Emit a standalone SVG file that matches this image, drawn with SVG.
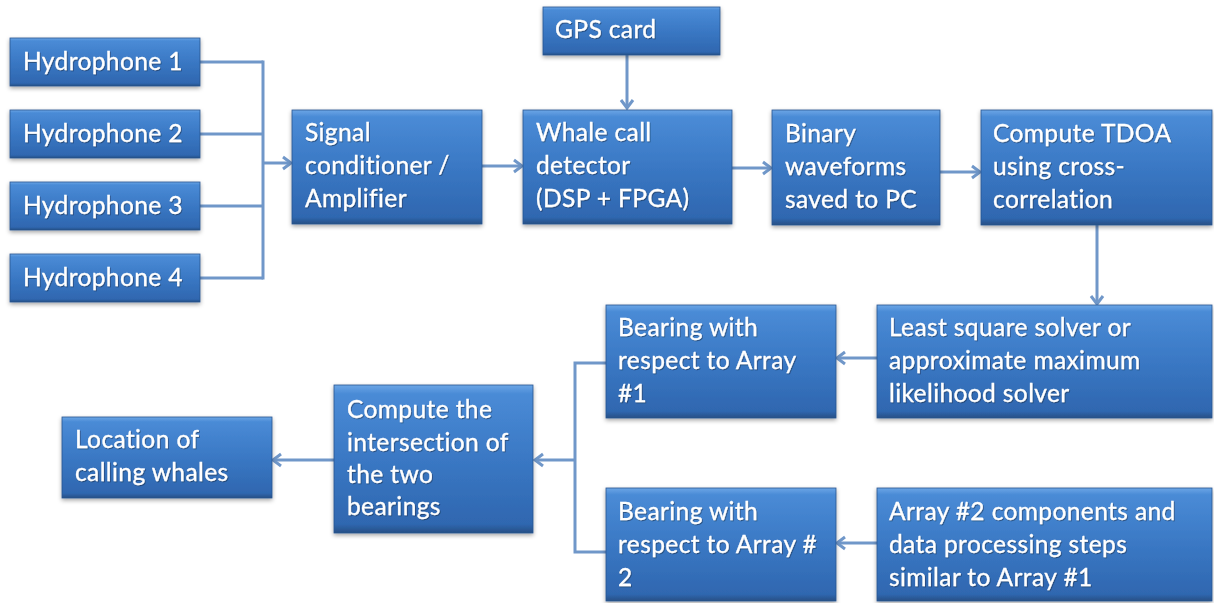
<svg xmlns="http://www.w3.org/2000/svg" width="1214" height="603" viewBox="0 0 1214 603">
  <defs>
    <linearGradient id="boxFill" x1="0" y1="0" x2="0" y2="1">
      <stop offset="0" stop-color="#6ca6e6"/>
      <stop offset="0.06" stop-color="#4a8bd6"/>
      <stop offset="0.5" stop-color="#3a78c4"/>
      <stop offset="0.94" stop-color="#2f67b0"/>
      <stop offset="1" stop-color="#274f85"/>
    </linearGradient>
    <filter id="shadow" x="-10%" y="-10%" width="120%" height="130%">
      <feDropShadow dx="0" dy="2" stdDeviation="2" flood-color="#000" flood-opacity="0.35"/>
    </filter>
    <filter id="tshadow" x="-5%" y="-20%" width="110%" height="140%">
      <feDropShadow dx="0.8" dy="1" stdDeviation="0.6" flood-color="#123" flood-opacity="0.5"/>
    </filter>
    <marker id="arrow" markerUnits="userSpaceOnUse" markerWidth="16" markerHeight="16" refX="12" refY="8" orient="auto">
      <path d="M4,2 L12,8 L4,14" fill="none" stroke="#7097c9" stroke-width="3"/>
    </marker>
  </defs>
  <style>
    .box { fill: url(#boxFill); stroke: #2a5590; stroke-width: 0.8; filter: url(#shadow); }
    .lbl { font-family: Lato, "Liberation Sans", sans-serif; font-size: 24.5px; letter-spacing: 0.4px; fill: #ffffff; stroke: #ffffff; stroke-width: 0.3; filter: url(#tshadow); }
    .conn { fill: none; stroke: #7097c9; stroke-width: 3; }
    .arr { marker-end: url(#arrow); }
  </style>

  <g id="connectors">
    <line class="conn" x1="200" y1="62" x2="263" y2="62"/>
    <line class="conn" x1="200" y1="134" x2="263" y2="134"/>
    <line class="conn" x1="200" y1="206" x2="263" y2="206"/>
    <line class="conn" x1="200" y1="278" x2="263" y2="278"/>
    <line class="conn" x1="263" y1="60.5" x2="263" y2="279.5"/>
    <line class="conn arr" x1="263" y1="163" x2="291" y2="163"/>
    <line class="conn arr" x1="482" y1="166" x2="522" y2="166"/>
    <line class="conn arr" x1="627" y1="55" x2="627" y2="108"/>
    <line class="conn arr" x1="732" y1="168" x2="771" y2="168"/>
    <line class="conn arr" x1="940" y1="172" x2="980" y2="172"/>
    <line class="conn arr" x1="1097" y1="225" x2="1097" y2="304"/>
    <line class="conn arr" x1="877" y1="358" x2="837" y2="358"/>
    <line class="conn arr" x1="877" y1="543" x2="837" y2="543"/>
    <polyline class="conn" points="606,363 575,363 575,552 606,552"/>
    <line class="conn arr" x1="575" y1="460" x2="535" y2="460"/>
    <line class="conn arr" x1="334" y1="460" x2="273" y2="460"/>
  </g>

  <g id="hydrophone1">
    <rect class="box" x="10" y="38" width="190" height="48"/>
    <text class="lbl" x="23" y="70">Hydrophone 1</text>
  </g>
  <g id="hydrophone2">
    <rect class="box" x="10" y="110" width="190" height="48"/>
    <text class="lbl" x="23" y="142">Hydrophone 2</text>
  </g>
  <g id="hydrophone3">
    <rect class="box" x="10" y="182" width="190" height="48"/>
    <text class="lbl" x="23" y="214">Hydrophone 3</text>
  </g>
  <g id="hydrophone4">
    <rect class="box" x="10" y="254" width="190" height="48"/>
    <text class="lbl" x="23" y="286">Hydrophone 4</text>
  </g>

  <g id="gps">
    <rect class="box" x="543" y="7" width="177" height="48"/>
    <text class="lbl" x="555" y="38">GPS card</text>
  </g>

  <g id="signal">
    <rect class="box" x="292" y="110" width="190" height="114"/>
    <text class="lbl" x="305" y="141">Signal</text>
    <text class="lbl" x="305" y="174">conditioner /</text>
    <text class="lbl" x="305" y="207">Amplifier</text>
  </g>

  <g id="detector">
    <rect class="box" x="523" y="110" width="209" height="114"/>
    <text class="lbl" x="536" y="141">Whale call</text>
    <text class="lbl" x="536" y="174">detector</text>
    <text class="lbl" x="536" y="207">(DSP + FPGA)</text>
  </g>

  <g id="binary">
    <rect class="box" x="772" y="110" width="168" height="115"/>
    <text class="lbl" x="785" y="142">Binary</text>
    <text class="lbl" x="785" y="175">waveforms</text>
    <text class="lbl" x="785" y="208">saved to PC</text>
  </g>

  <g id="tdoa">
    <rect class="box" x="981" y="110" width="231" height="115"/>
    <text class="lbl" x="993" y="142">Compute TDOA</text>
    <text class="lbl" x="993" y="175">using cross-</text>
    <text class="lbl" x="993" y="208">correlation</text>
  </g>

  <g id="solver">
    <rect class="box" x="877" y="305" width="335" height="113"/>
    <text class="lbl" x="889" y="336">Least square solver or</text>
    <text class="lbl" x="889" y="369">approximate maximum</text>
    <text class="lbl" x="889" y="402">likelihood solver</text>
  </g>

  <g id="bearing1">
    <rect class="box" x="606" y="305" width="230" height="113"/>
    <text class="lbl" x="618" y="336">Bearing with</text>
    <text class="lbl" x="618" y="369">respect to Array</text>
    <text class="lbl" x="618" y="402">#1</text>
  </g>

  <g id="array2">
    <rect class="box" x="877" y="488" width="335" height="113"/>
    <text class="lbl" x="889" y="520">Array #2 components and</text>
    <text class="lbl" x="889" y="553">data processing steps</text>
    <text class="lbl" x="889" y="586">similar to Array #1</text>
  </g>

  <g id="bearing2">
    <rect class="box" x="606" y="488" width="230" height="113"/>
    <text class="lbl" x="618" y="520">Bearing with</text>
    <text class="lbl" x="618" y="553">respect to Array #</text>
    <text class="lbl" x="618" y="586">2</text>
  </g>

  <g id="intersection">
    <rect class="box" x="334" y="385" width="199" height="148"/>
    <text class="lbl" x="347" y="418">Compute the</text>
    <text class="lbl" x="347" y="451">intersection of</text>
    <text class="lbl" x="347" y="483">the two</text>
    <text class="lbl" x="347" y="515">bearings</text>
  </g>

  <g id="location">
    <rect class="box" x="62" y="417" width="210" height="81"/>
    <text class="lbl" x="75" y="448">Location of</text>
    <text class="lbl" x="75" y="481">calling whales</text>
  </g>
</svg>
